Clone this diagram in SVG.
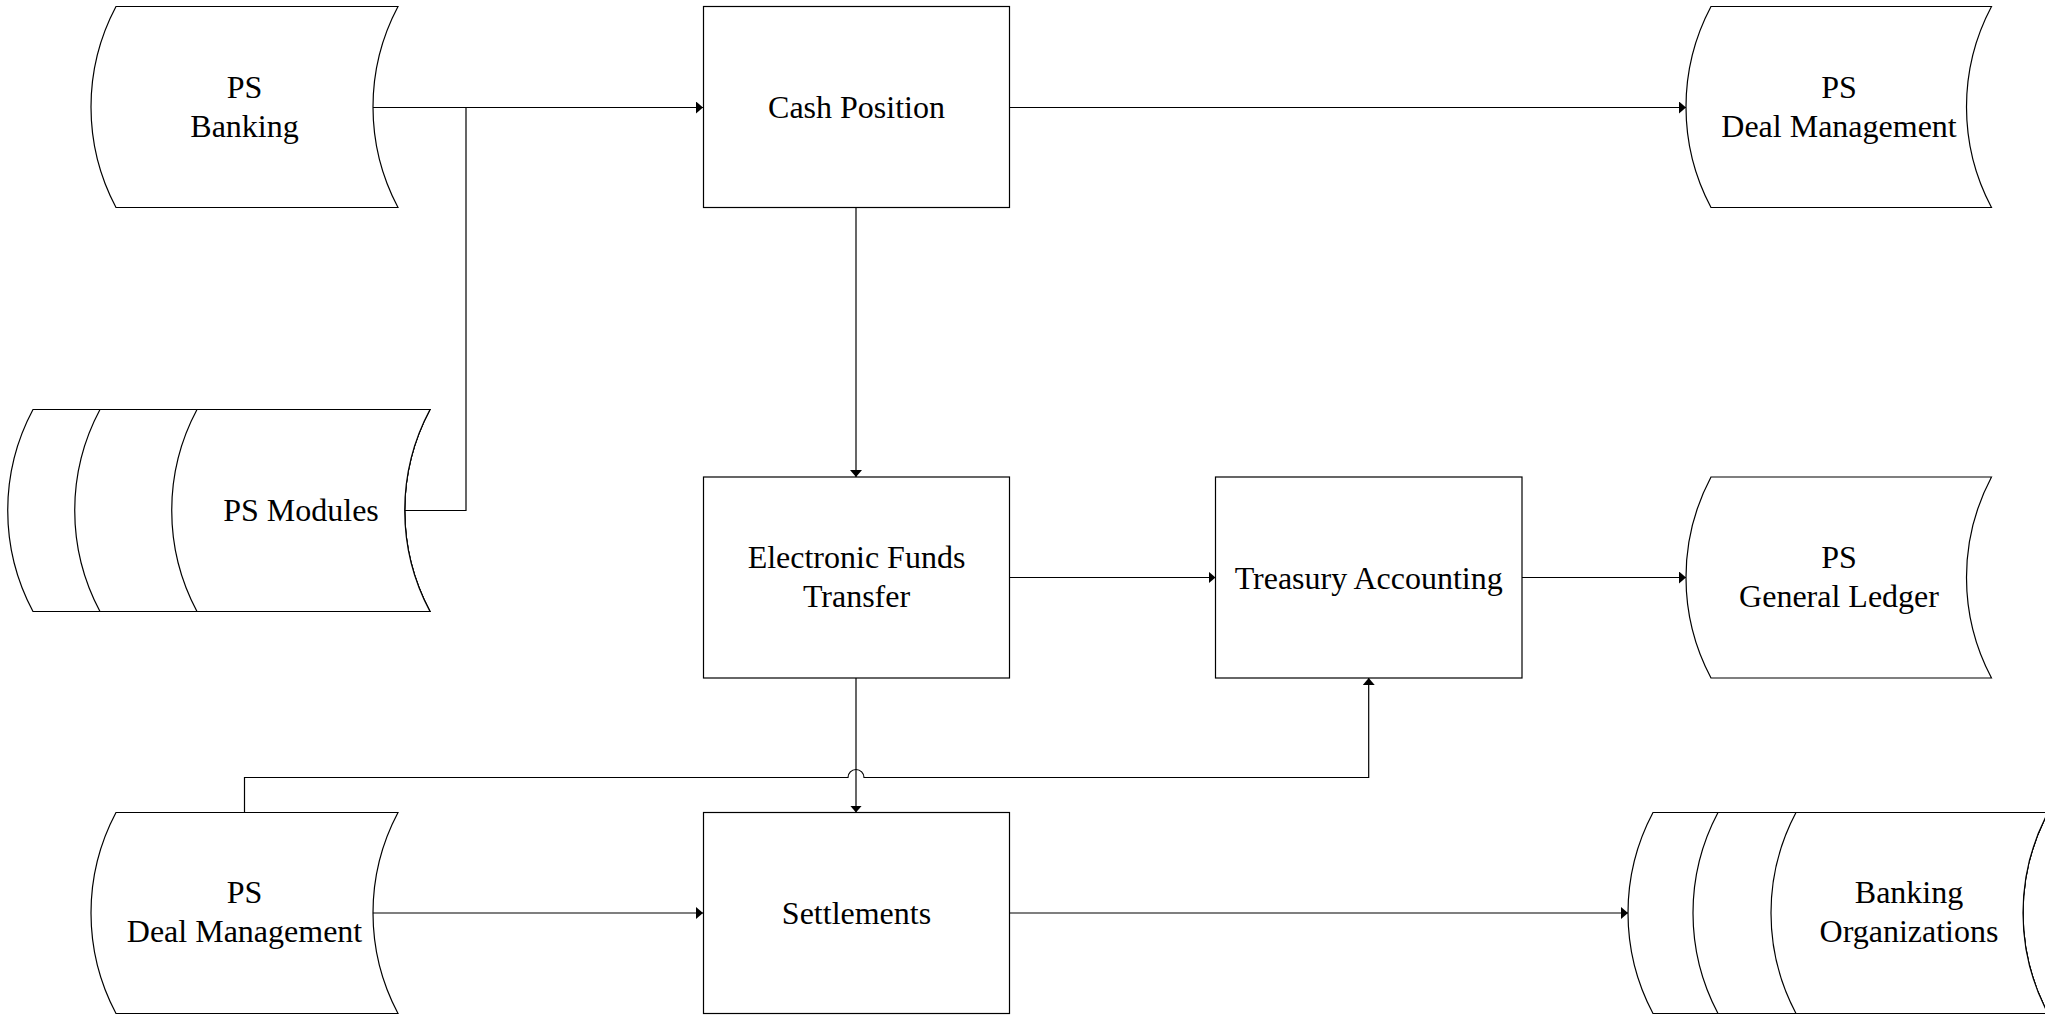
<svg xmlns="http://www.w3.org/2000/svg" width="2045" height="1016" viewBox="0 0 2045 1016">
<defs>
<style>
.shape{fill:#fff;stroke:#000;stroke-width:1.2}
.conn{fill:none;stroke:#000;stroke-width:1.2}
.lbl{font-family:"Liberation Serif","Times New Roman",serif;font-size:32px;fill:#000;text-anchor:middle}
</style>
<marker id="arr" viewBox="0 0 7 12" refX="7" refY="6" markerWidth="7" markerHeight="12" markerUnits="userSpaceOnUse" orient="auto">
<path d="M0,0 L7,6 L0,12 Z" fill="#000"/>
</marker>
</defs>
<rect width="2045" height="1016" fill="#fff"/>

<g id="connectors">
<path class="conn" d="M372,107.5 H703" marker-end="url(#arr)"/>
<path class="conn" d="M405,510.5 H466 V107.5"/>
<path class="conn" d="M1009.5,107.5 H1686" marker-end="url(#arr)"/>
<path class="conn" d="M856,207.5 V477" marker-end="url(#arr)"/>
<path class="conn" d="M1009.5,577.5 H1215.5" marker-end="url(#arr)"/>
<path class="conn" d="M1522,577.5 H1686" marker-end="url(#arr)"/>
<path class="conn" d="M856,678 V812.5" marker-end="url(#arr)"/>
<path class="conn" d="M244.5,812.5 V777.5 H848 A8,8 0 0 1 864,777.5 H1368.7 V678" marker-end="url(#arr)"/>
<path class="conn" d="M372,913 H703" marker-end="url(#arr)"/>
<path class="conn" d="M1009.5,913 H1628" marker-end="url(#arr)"/>
</g>

<g id="ps-banking">
<path class="shape" d="M116,6.5 H398 A214.5,214.5 0 0 0 398,207.5 H116 A214.5,214.5 0 0 1 116,6.5 Z"/>
<text class="lbl" x="244.5" y="98">PS</text>
<text class="lbl" x="244.5" y="137">Banking</text>
</g>

<g id="cash-position">
<rect class="shape" x="703.5" y="6.5" width="306" height="201"/>
<text class="lbl" x="856.5" y="118">Cash Position</text>
</g>

<g id="ps-deal-management-top">
<path class="shape" d="M1711,6.5 H1991.5 A214.5,214.5 0 0 0 1991.5,207.5 H1711 A214.5,214.5 0 0 1 1711,6.5 Z"/>
<text class="lbl" x="1839" y="98">PS</text>
<text class="lbl" x="1839" y="137">Deal Management</text>
</g>

<g id="ps-modules">
<path class="shape" d="M33,409.5 H430 A214.5,214.5 0 0 0 430,611.5 H33 A214.5,214.5 0 0 1 33,409.5 Z"/>
<path class="shape" d="M100,409.5 H430 A214.5,214.5 0 0 0 430,611.5 H100 A214.5,214.5 0 0 1 100,409.5 Z"/>
<path class="shape" d="M197,409.5 H430 A214.5,214.5 0 0 0 430,611.5 H197 A214.5,214.5 0 0 1 197,409.5 Z"/>
<text class="lbl" x="301" y="521">PS Modules</text>
</g>

<g id="electronic-funds-transfer">
<rect class="shape" x="703.5" y="477" width="306" height="201"/>
<text class="lbl" x="856.5" y="568">Electronic Funds</text>
<text class="lbl" x="856.5" y="607">Transfer</text>
</g>

<g id="treasury-accounting">
<rect class="shape" x="1215.5" y="477" width="306.5" height="201"/>
<text class="lbl" x="1368.7" y="588.5">Treasury Accounting</text>
</g>

<g id="ps-general-ledger">
<path class="shape" d="M1711,477 H1991.5 A214.5,214.5 0 0 0 1991.5,678 H1711 A214.5,214.5 0 0 1 1711,477 Z"/>
<text class="lbl" x="1839" y="568">PS</text>
<text class="lbl" x="1839" y="607">General Ledger</text>
</g>

<g id="ps-deal-management-bottom">
<path class="shape" d="M116,812.5 H398 A214.5,214.5 0 0 0 398,1013.5 H116 A214.5,214.5 0 0 1 116,812.5 Z"/>
<text class="lbl" x="244.5" y="903">PS</text>
<text class="lbl" x="244.5" y="942">Deal Management</text>
</g>

<g id="settlements">
<rect class="shape" x="703.5" y="812.5" width="306" height="201"/>
<text class="lbl" x="856.5" y="924">Settlements</text>
</g>

<g id="banking-organizations">
<path class="shape" d="M1653,812.5 H2048 A214.5,214.5 0 0 0 2048,1013.5 H1653 A214.5,214.5 0 0 1 1653,812.5 Z"/>
<path class="shape" d="M1718,812.5 H2048 A214.5,214.5 0 0 0 2048,1013.5 H1718 A214.5,214.5 0 0 1 1718,812.5 Z"/>
<path class="shape" d="M1796,812.5 H2048 A214.5,214.5 0 0 0 2048,1013.5 H1796 A214.5,214.5 0 0 1 1796,812.5 Z"/>
<text class="lbl" x="1909" y="903">Banking</text>
<text class="lbl" x="1909" y="942">Organizations</text>
</g>
</svg>
